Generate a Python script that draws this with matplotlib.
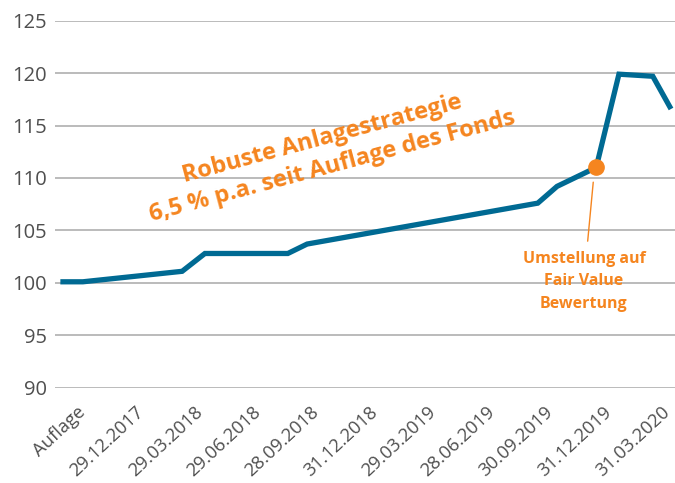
import matplotlib.pyplot as plt
from matplotlib.transforms import ScaledTranslation

plt.rcParams['font.family'] = ['Open Sans', 'DejaVu Sans']

# x positions in quarters since launch (tick i = quarter i)
x_vals = [0.0, 0.34, 2.04, 2.43, 3.85, 4.18, 8.13, 8.46, 9.13, 9.52, 10.10, 10.39]
y_vals = [100.1, 100.1, 101.1, 102.8, 102.8, 103.7, 107.6, 109.2, 111.0, 119.9, 119.7, 116.8]

tick_labels = ['Auflage', '29.12.2017', '29.03.2018', '29.06.2018', '28.09.2018',
               '31.12.2018', '29.03.2019', '28.06.2019', '30.09.2019',
               '31.12.2019', '31.03.2020']
y_ticks = [90, 95, 100, 105, 110, 115, 120, 125]

marker_idx = 8  # Umstellung auf Fair Value Bewertung

blue = '#006a93'
orange = '#f5851f'
grey_txt = '#4f4f4f'

fig = plt.figure(figsize=(6.75, 4.83), dpi=100)
ax = fig.add_axes([55 / 675, 1 - 387.7 / 483, 620 / 675, 367 / 483])

ax.plot(x_vals, y_vals, color=blue, lw=3.8, solid_joinstyle='miter', zorder=3)
ax.plot(x_vals[marker_idx], y_vals[marker_idx], 'o', color=orange, ms=11, zorder=4)

ax.set_xlim(-0.137, 10.48)
ax.set_ylim(90, 125)
ax.set_yticks(y_ticks)
ax.set_xticks(range(len(tick_labels)))
ax.set_xticklabels(tick_labels, rotation=43, ha='right', va='top',
                   rotation_mode='anchor')
ax.tick_params(axis='y', length=0, colors=grey_txt, labelsize=14.5, pad=6)
ax.tick_params(axis='x', length=0, colors=grey_txt, labelsize=13.2, pad=11)
shift = ScaledTranslation(10 / 72, 0, fig.dpi_scale_trans)
for lab in ax.get_xticklabels():
    lab.set_transform(lab.get_transform() + shift)
ax.grid(axis='y', color='#bbbbbb', lw=1.4)
ax.set_axisbelow(True)
for s in ax.spines.values():
    s.set_visible(False)

# annotation for the fair value switch
ax.annotate('Umstellung auf\nFair Value\nBewertung',
            xy=(x_vals[marker_idx] - 0.05, y_vals[marker_idx] - 1.4),
            xytext=(8.92, 103.05), ha='center', va='top',
            color=orange, fontsize=11.5, fontweight='bold', linespacing=1.53,
            arrowprops=dict(arrowstyle='-', color=orange, lw=1,
                            shrinkA=5, shrinkB=0))

fig.text(324 / 675, 1 - 144.5 / 483, 'Robuste Anlagestrategie', rotation=15,
         ha='center', va='baseline', rotation_mode='anchor',
         color=orange, fontsize=17, fontweight='bold')
fig.text(334 / 675, 1 - 172.5 / 483, '6,5 % p.a. seit Auflage des Fonds', rotation=15,
         ha='center', va='baseline', rotation_mode='anchor',
         color=orange, fontsize=17, fontweight='bold')

fig.savefig('out.png', dpi=100)
